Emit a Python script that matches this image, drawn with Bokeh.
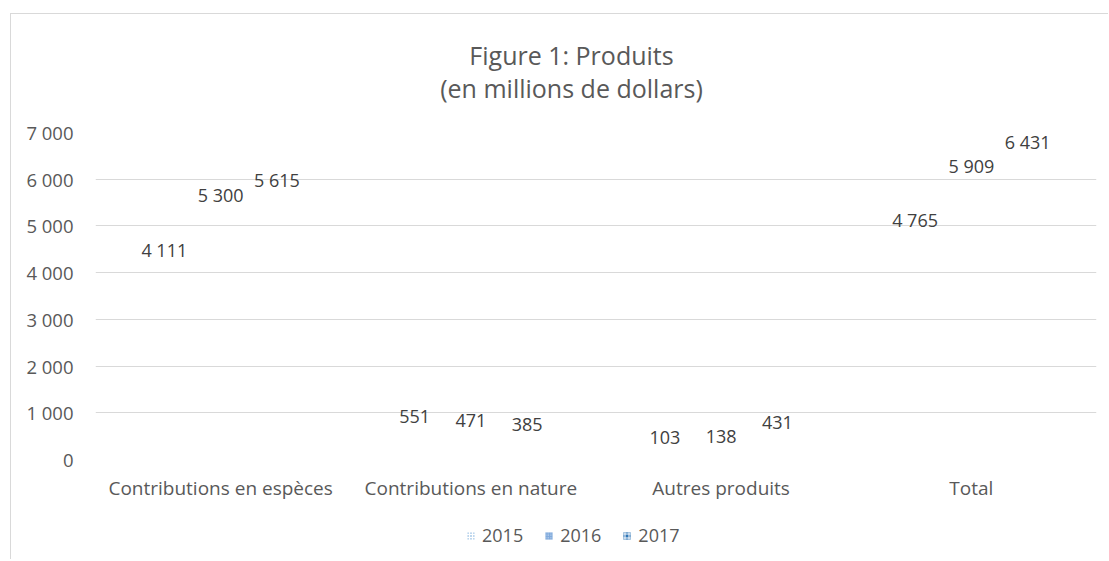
from bokeh.plotting import figure
from bokeh.layouts import column
from bokeh.models import (ColumnDataSource, FactorRange, Range1d, Legend, LegendItem,
                          CustomJSTickFormatter)
from bokeh.transform import dodge
from bokeh.core.properties import value
from bokeh.embed import file_html
from bokeh.resources import INLINE

# ---- data ----
categories = ["Contributions en espèces", "Contributions en nature", "Autres produits", "Total"]
years = ["2015", "2016", "2017"]
v2015 = [4111, 551, 103, 4765]
v2016 = [5300, 471, 138, 5909]
v2017 = [5615, 385, 431, 6431]
y_ticks = [0, 1000, 2000, 3000, 4000, 5000, 6000, 7000]
title_lines = ["Figure 1: Produits", "(en millions de dollars)"]


def fmt(v):
    return format(v, ",").replace(",", " ")


FONT = "Open Sans"
GRAY = "#595959"
W = 1097


def strip(height, xr, yr):
    f = figure(width=W, height=height, x_range=xr, y_range=yr,
               x_axis_type=None, y_axis_type=None,
               output_backend="svg", toolbar_location=None,
               min_border=0, min_border_left=0, min_border_right=0,
               min_border_top=0, min_border_bottom=0)
    f.grid.visible = False
    f.outline_line_color = None
    return f


# ---------------- title strip (frame aligned with the chart frame, page pixels) ----------------
t = strip(98, Range1d(95, 1096), Range1d(98, 0))
tsrc = ColumnDataSource(dict(x=[571, 571], y=[40, 73], text=title_lines))
t.text(x="x", y="y", text="text", source=tsrc, text_align="center", text_baseline="middle",
       text_font=value(FONT), text_font_size="25px", text_color=GRAY)

# ---------------- main chart ----------------
src = ColumnDataSource(dict(
    cat=categories,
    v2015=v2015, v2016=v2016, v2017=v2017,
    l2015=[fmt(v) for v in v2015],
    l2016=[fmt(v) for v in v2016],
    l2017=[fmt(v) for v in v2017],
))

p = figure(x_range=FactorRange(*categories), y_range=Range1d(0, 7000),
           width=W, height=407, output_backend="svg", toolbar_location=None,
           min_border_left=84, min_border_right=12, min_border_top=20, min_border_bottom=60)
p.outline_line_color = None

offsets = [-0.225, 0.0, 0.225]
cols = ["v2015", "v2016", "v2017"]
lcols = ["l2015", "l2016", "l2017"]

# bars (their pattern fills are not rendered in the original: invisible)
for off, c in zip(offsets, cols):
    p.vbar(x=dodge("cat", off, range=p.x_range), top=c, width=0.2, source=src,
           fill_alpha=0, line_alpha=0)

# data labels
for off, lc, c in zip(offsets, lcols, cols):
    p.text(x=dodge("cat", off, range=p.x_range), y=c, text=lc, source=src,
           y_offset=-17, text_align="center", text_baseline="middle",
           text_font=value(FONT), text_font_size="18px", text_color="#404040")

p.yaxis.ticker = y_ticks
p.yaxis.formatter = CustomJSTickFormatter(
    code='return tick.toString().replace(/\\B(?=(\\d{3})+(?!\\d))/g, " ");')
for ax in (p.xaxis, p.yaxis):
    ax.axis_line_color = None
    ax.major_tick_line_color = None
    ax.minor_tick_line_color = None
    ax.major_tick_out = 0
    ax.major_tick_in = 0
    ax.minor_tick_out = 0
    ax.minor_tick_in = 0
    ax.major_label_text_font = FONT
    ax.major_label_text_color = GRAY
p.yaxis.major_label_text_font_size = "18.5px"
p.xaxis.major_label_text_font_size = "19px"
p.yaxis.major_label_standoff = 22
p.xaxis.major_label_standoff = 15
p.xaxis.major_label_orientation = "horizontal"

p.xgrid.grid_line_color = None
p.ygrid.ticker = y_ticks
p.ygrid.grid_line_color = "#d9d9d9"
p.ygrid.grid_line_width = 1

# ---------------- legend strip ----------------
b = strip(40, Range1d(0, 1), Range1d(0, 1))
swatches = [
    dict(fill_color="white", hatch_pattern="dot", hatch_color="#5b9bd5", hatch_scale=3, hatch_weight=1.5),
    dict(fill_color="#7fa9dc", hatch_pattern="dot", hatch_color="#dbe7f5", hatch_scale=2.5, hatch_weight=1),
    dict(fill_color="#2e75b6", hatch_pattern="cross", hatch_color="white", hatch_scale=4, hatch_weight=1),
]
items = []
for yr, st in zip(years, swatches):
    # legend-only renderer, kept outside the visible range of the strip
    dummy = ColumnDataSource(dict(x=[-10], top=[0]))
    r = b.vbar(x="x", top="top", width=0.2, source=dummy, line_color=None, **st)
    items.append(LegendItem(label=yr, renderers=[r]))

legend = Legend(items=items, orientation="horizontal", location=(371, 12),
                label_text_font=FONT, label_text_font_size="18px", label_text_color=GRAY,
                glyph_width=9, glyph_height=9, label_standoff=7, spacing=21,
                padding=0, margin=0, border_line_color=None, background_fill_alpha=0)
b.add_layout(legend, "center")

layout = column(t, p, b, spacing=0, margin=(13, 0, 0, 10),
                styles={"border-left": "1px solid #d9d9d9", "border-top": "1px solid #d9d9d9"})

open("out.html", "w").write(file_html(layout, INLINE))
